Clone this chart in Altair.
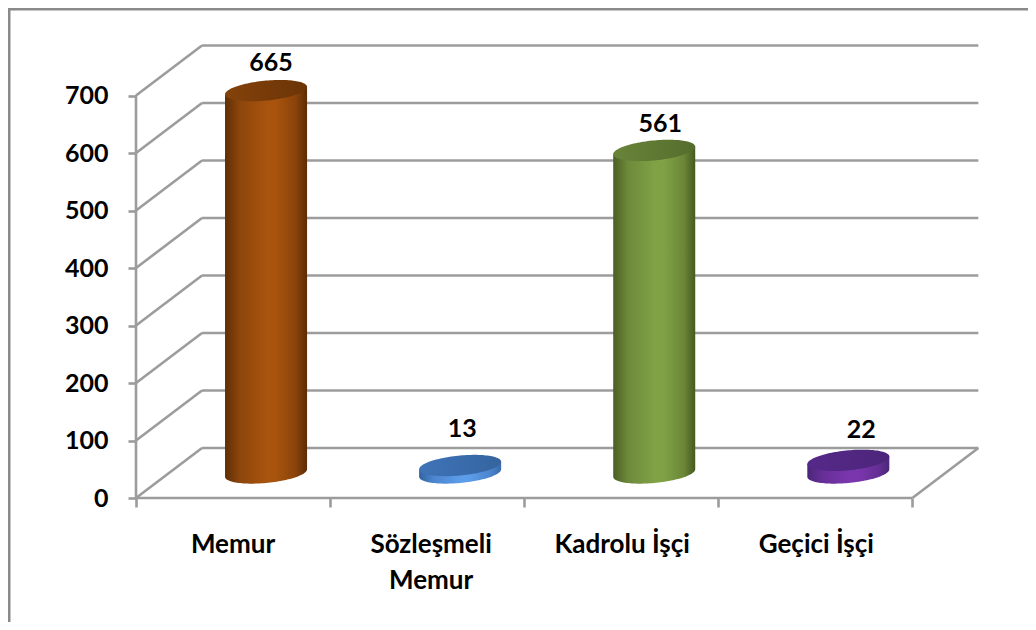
import numpy as np
import pandas as pd
import altair as alt

categories = ["Memur", "Sözleşmeli\nMemur", "Kadrolu İşçi", "Geçici İşçi"]
values = [665, 13, 561, 22]
y_ticks = [0, 100, 200, 300, 400, 500, 600, 700]
x_ticks = [0, 1, 2, 3, 4]

FONT = "Lato"
GRID = "#9c9c9c"
DEPTH_X = 0.34      # floor depth in category units
DEPTH_Y = 87.0      # floor depth in value units
HALF_W = 0.2113
ELL_B = 17.4
SHEAR = 6.5

styles = [
    dict(edgeL="#5f2e06", q1="#8d460c", mid="#a8530e", q3="#8a440a", edgeR="#5c2c05", topL="#84420a", topR="#6b3406", dx=5, dy=-28),
    dict(edgeL="#34639f", q1="#4c86cf", mid="#5c9ce8", q3="#4c86cf", edgeR="#3a6bac", topL="#3f74b8", topR="#35649f", dx=2, dy=-37),
    dict(edgeL="#4b5f26", q1="#6d8a3a", mid="#80a146", q3="#6b8738", edgeR="#46591f", topL="#69843a", topR="#556d2c", dx=6, dy=-26),
    dict(edgeL="#4a2679", q1="#662e96", mid="#7a36ad", q3="#662e96", edgeR="#4b2779", topL="#55298a", topR="#4c2579", dx=13, dy=-30),
]
label_shift = [0, 4, 1, 1]

x_scale = alt.Scale(domain=[0, 4.4], nice=False, zero=False)
y_scale = alt.Scale(domain=[0, 800], nice=False, zero=False)
x_axis = alt.Axis(values=x_ticks, labels=False, domain=False, grid=False, ticks=True,
                  tickSize=9, tickWidth=2.6, tickColor=GRID)
y_axis = alt.Axis(values=y_ticks, domain=False, grid=False, ticks=True, tickSize=8,
                  tickWidth=2.6, tickColor=GRID, labelPadding=20, labelFont=FONT,
                  labelFontSize=25, labelFontWeight="bold", labelColor="#000000")
X = alt.X("x:Q", scale=x_scale, title=None, axis=x_axis)
Y = alt.Y("y:Q", scale=y_scale, title=None, axis=y_axis)


def rules(rows, color=GRID, width=2.6):
    return alt.Chart(pd.DataFrame(rows)).mark_rule(color=color, strokeWidth=width).encode(
        x=X, x2="x2:Q", y=Y, y2="y2:Q"
    )


layers = []

# walls and floor
layers.append(rules([dict(x=DEPTH_X, x2=4 + DEPTH_X, y=v + DEPTH_Y, y2=v + DEPTH_Y) for v in y_ticks]))
layers.append(rules([dict(x=0, x2=DEPTH_X, y=v, y2=v + DEPTH_Y) for v in y_ticks]))
layers.append(rules([dict(x=4, x2=4 + DEPTH_X, y=0, y2=DEPTH_Y)]))
layers.append(rules([dict(x=0, x2=4, y=0, y2=0), dict(x=0, x2=0, y=0, y2=700)]))

# cylinders
u = np.cos(np.linspace(np.pi, 0, 61))
round_part = np.sqrt(np.clip(1 - u ** 2, 0, 1))
for i, (v, st) in enumerate(zip(values, styles)):
    cx = i + 0.5 + DEPTH_X / 2
    base = DEPTH_Y / 2
    top = v + base
    xs = cx + HALF_W * u
    tilt = SHEAR * u
    body = pd.DataFrame({"x": xs, "y": top + tilt, "y2": base + tilt - ELL_B * round_part})
    cap = pd.DataFrame({"x": xs, "y": top + tilt + ELL_B * round_part, "y2": top + tilt - ELL_B * round_part})
    body_grad = alt.Gradient(
        gradient="linear", x1=0, x2=1, y1=0, y2=0,
        stops=[
            alt.GradientStop(offset=0, color=st["edgeL"]),
            alt.GradientStop(offset=0.18, color=st["q1"]),
            alt.GradientStop(offset=0.5, color=st["mid"]),
            alt.GradientStop(offset=0.62, color=st["mid"]),
            alt.GradientStop(offset=0.86, color=st["q3"]),
            alt.GradientStop(offset=1, color=st["edgeR"]),
        ],
    )
    cap_grad = alt.Gradient(
        gradient="linear", x1=0, x2=1, y1=0, y2=0,
        stops=[
            alt.GradientStop(offset=0, color=st["topL"]),
            alt.GradientStop(offset=1, color=st["topR"]),
        ],
    )
    layers.append(alt.Chart(body).mark_area(color=body_grad).encode(x=X, y=Y, y2="y2:Q"))
    layers.append(alt.Chart(cap).mark_area(color=cap_grad).encode(x=X, y=Y, y2="y2:Q"))
    layers.append(
        alt.Chart(pd.DataFrame({"x": [cx], "y": [top], "t": [str(v)]}))
        .mark_text(font=FONT, fontSize=25, fontWeight="bold", color="#000000",
                   dx=st["dx"], dy=st["dy"], baseline="middle", align="center")
        .encode(x=X, y=Y, text="t:N")
    )

# category labels
for i, (cat, shift) in enumerate(zip(categories, label_shift)):
    layers.append(
        alt.Chart(pd.DataFrame({"x": [i + 0.5], "y": [0.0], "t": [cat]}))
        .mark_text(font=FONT, fontSize=26, fontWeight="bold", color="#000000", dx=shift, dy=55,
                   baseline="alphabetic", align="center", lineBreak="\n", lineHeight=36)
        .encode(x=X, y=Y, text="t:N")
    )

# outer frame
frame = pd.DataFrame({"x": [0.0], "y": [0.0]})
layers.append(
    alt.Chart(frame).mark_rule(color="#8a8a8a", strokeWidth=3).encode(
        x=alt.value(-127), y=alt.value(-29), y2=alt.value(584)
    )
)
layers.append(
    alt.Chart(frame).mark_rule(color="#8a8a8a", strokeWidth=3).encode(
        y=alt.value(-29), x=alt.value(-128), x2=alt.value(892)
    )
)

chart = (
    alt.layer(*layers)
    .properties(
        width=854,
        height=460,
        padding={"left": 128, "top": 30, "right": 38, "bottom": 124},
        autosize=alt.AutoSizeParams(type="none"),
        background="#ffffff",
    )
    .configure_view(stroke=None)
)

chart.save("out.html", embed_options={"renderer": "svg", "actions": False})
